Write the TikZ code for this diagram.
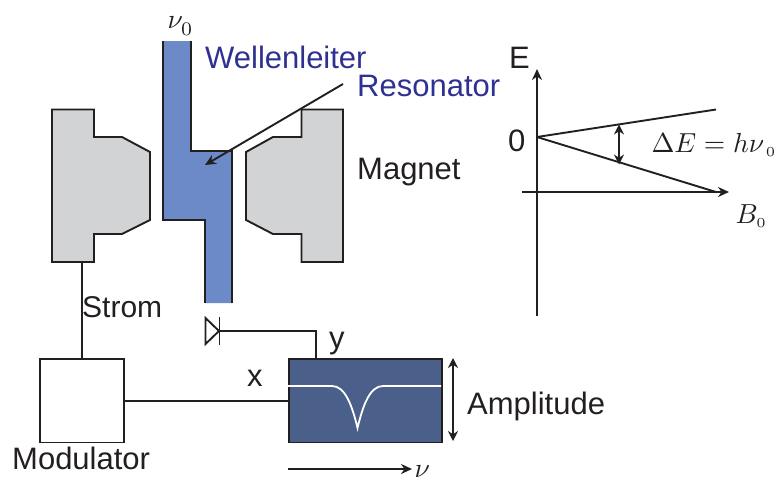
\documentclass[tikz,border=0pt]{standalone}
\usepackage{fontspec}
\setmainfont{Liberation Sans}
\usetikzlibrary{arrows.meta}
\definecolor{ink}{HTML}{231F20}
\definecolor{wave}{HTML}{6D8AC8}
\definecolor{bluetxt}{HTML}{2E3192}
\definecolor{pole}{HTML}{D1D3D4}
\definecolor{scr}{HTML}{4A5F8A}
\tikzset{
 lbl/.style={font=\fontsize{31}{33}\selectfont,text=ink,inner sep=0pt,anchor=base west},
 bluelbl/.style={lbl,text=bluetxt},
 mathlbl/.style={text=ink,inner sep=0pt,scale=2.75,anchor=base west},
 magnet/.style={draw=ink,fill=pole,line width=1.9pt,line join=miter},
 wire/.style={draw=ink,line width=1.9pt},
 arr/.style={wire,-{Stealth[length=11pt,width=10pt]}},
 darr/.style={wire,{Stealth[length=10pt,width=10pt]}-{Stealth[length=10pt,width=10pt]}},
 box/.style={draw=ink,line width=1.9pt,inner sep=0pt,anchor=north west}
}
\begin{document}
\begin{tikzpicture}[x=1pt,y=-1pt]
\useasboundingbox (0,0) rectangle (774,479);
\clip (0,0) rectangle (774,479);
% magnets
\path[magnet] (52,109.5) -- (94,109.5) -- (94,137) -- (122,137) -- (150,152) -- (150,220) -- (122,234) -- (94,234) -- (94,262) -- (52,262) -- cycle;
\path[magnet] (343,109.5) -- (301.5,109.5) -- (301.5,137) -- (273,137) -- (246,152) -- (246,220) -- (273,234) -- (301.5,234) -- (301.5,262) -- (343,262) -- cycle;
% waveguide
\fill[wave] (163,41) -- (191,41) -- (191,151) -- (232.5,151) -- (232.5,303) -- (205,303) -- (205,220) -- (163,220) -- cycle;
\draw[ink,line width=1.9pt] (163,41) -- (163,220) -- (205,220) -- (205,303);
\draw[ink,line width=1.9pt] (191,41) -- (191,151) -- (232,151) -- (232,303);
% boxes
\node[box,fill=white,minimum width=84pt,minimum height=83.5pt] (mod) at (39,358) {};
\node[box,fill=scr,minimum width=153pt,minimum height=83.5pt] (screen) at (288,358) {};
% trace
\draw[white,line width=1.8pt] (288,386) -- (332,386) .. controls (345,386) and (352,405) .. (357.5,428) .. controls (363,405) and (370,386) .. (383,386) -- (441,386);
% connectors
\coordinate (magfoot) at (mod.north |- 0,262);
\draw[wire] (magfoot) -- (mod.north);
\draw[wire] (mod.east) -- (screen.west);
\coordinate (diodetip) at (219.5,331);
\coordinate (yin) at (316,358);
\draw[wire] (diodetip) -- (316,331) -- (yin);
\draw[wire,line join=miter] (205.5,318) -- (219,331) -- (205.5,344) -- cycle;
\draw[wire] (219.5,317) -- (219.5,345);
% resonator arrow
\coordinate (resfrom) at (343,84);
\coordinate (resto) at (205,165);
\draw[arr] (resfrom) -- (resto);
% amplitude / frequency arrows
\coordinate (ampa) at (453,358);
\coordinate (ampb) at (453,441);
\draw[darr] (ampa) -- (ampb);
\coordinate (fa) at (288,469);
\coordinate (fb) at (412,469);
\draw[arr] (fa) -- (fb);
% energy diagram
\coordinate (yb) at (537,316);
\coordinate (yt) at (537,69);
\coordinate (xl) at (522,192);
\coordinate (xr) at (729,192);
\coordinate (zero) at (537,137);
\coordinate (up) at (716,109.5);
\coordinate (low) at (716,192);
\coordinate (da) at (619,124.5);
\coordinate (db) at (619,164.5);
\draw[arr] (yb) -- (yt);
\draw[arr] (xl) -- (xr);
\draw[wire] (zero) -- (up);
\draw[wire] (zero) -- (low);
\draw[darr] (da) -- (db);
% labels
\node[mathlbl] (nu) at (167,28.5) {$\nu_{\lower 1.2pt\hbox{$\scriptstyle 0$}}$};
\node[bluelbl] (wl) at (205,68) {Wellenleiter};
\node[bluelbl] (rs) at (357,96) {Resonator};
\node[lbl] (mg) at (357,179) {Magnet};
\node[lbl,font=\fontsize{30}{32}\selectfont] (st) at (82,317) {Strom};
\node[lbl] (xx) at (247,386) {x};
\node[lbl] (yy) at (329,348) {y};
\node[lbl] (am) at (467,414) {Amplitude};
\node[lbl] (md) at (12,469) {Modulator};
\node[lbl] (ee) at (509,68) {E};
\node[lbl] (ze) at (508,151.5) {0};
\node[mathlbl] (de) at (651,152) {$\Delta E=h\nu_{\scriptscriptstyle\,0}$};
\node[mathlbl] (bb) at (735,223) {$B_{\scriptscriptstyle 0}$};
\node[mathlbl] (nn) at (414,477) {$\nu$};
\end{tikzpicture}
\end{document}
